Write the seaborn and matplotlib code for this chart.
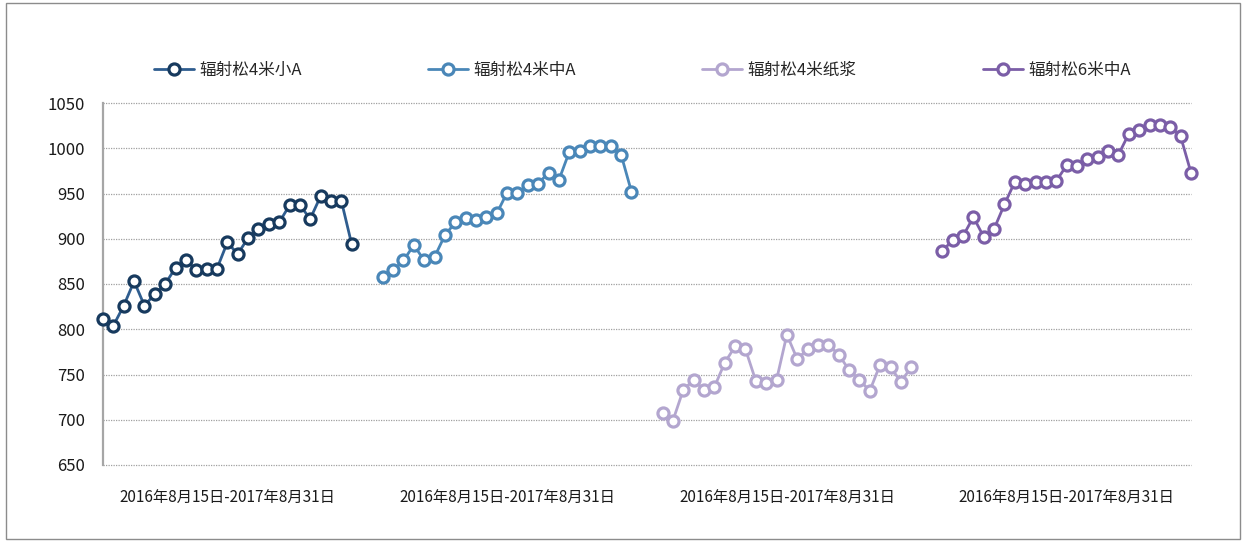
import numpy as np
import pandas as pd
import matplotlib
matplotlib.use("Agg")
import matplotlib.pyplot as plt
import seaborn as sns
from matplotlib.patches import Rectangle

# ---- data ----
series_names = ["辐射松4米小A", "辐射松4米中A", "辐射松4米纸浆", "辐射松6米中A"]
s1 = [811, 804, 826, 853, 826, 839, 850, 868, 876, 866, 867, 867, 896, 883, 901,
      911, 916, 918, 937, 937, 922, 947, 942, 942, 894]
s2 = [858, 865, 876, 893, 876, 880, 904, 918, 923, 921, 924, 928, 951, 951, 959,
      961, 973, 965, 996, 997, 1003, 1003, 1003, 993, 952]
s3 = [707, 699, 733, 744, 733, 736, 763, 781, 778, 743, 741, 744, 794, 767, 778,
      783, 783, 772, 755, 744, 732, 761, 758, 742, 758]
s4 = [886, 899, 903, 924, 902, 911, 938, 963, 961, 963, 963, 964, 981, 980, 988,
      990, 997, 993, 1016, 1020, 1026, 1026, 1024, 1013, 973]
period_label = "2016年8月15日-2017年8月31日"
y_ticks = [650, 700, 750, 800, 850, 900, 950, 1000, 1050]
gap = 2  # empty categories between groups

all_series = [s1, s2, s3, s4]
line_colors = ["#2F5D8F", "#4A87B8", "#B3A6CF", "#7B5EA7"]
edge_colors = ["#173A5E", "#4A87B8", "#B3A6CF", "#7B5EA7"]

rows = []
offset = 0
centers = []
for name, vals in zip(series_names, all_series):
    for i, v in enumerate(vals):
        rows.append({"x": offset + i, "value": v, "series": name})
    centers.append(offset + (len(vals) - 1) / 2)
    offset += len(vals) + gap
df = pd.DataFrame(rows)
x_max = df["x"].max()

sns.set_theme(style="white")
plt.rcParams["font.family"] = ["Noto Sans CJK SC", "DejaVu Sans"]

fig = plt.figure(figsize=(12.42, 5.42), dpi=100)
ax = fig.add_axes([103 / 1242, 1 - 465 / 542, (1191 - 103) / 1242, (465 - 103) / 542])

handles = []
for name, lc, ec in zip(series_names, line_colors, edge_colors):
    sub = df[df["series"] == name]
    sns.lineplot(data=sub, x="x", y="value", ax=ax, color=lc, linewidth=2.0,
                 marker="o", markersize=8, markerfacecolor="white",
                 markeredgecolor=ec, markeredgewidth=2.3, legend=False)
    ln = ax.lines[-1]
    ln.set_clip_on(False)
    ln.set_zorder(3)
    handles.append(ln)

ax.set_xlim(0, x_max)
ax.set_ylim(650, 1050)
ax.set_yticks(y_ticks)
ax.set_xticks(centers)
ax.set_xticklabels([period_label] * len(centers))
ax.tick_params(axis="x", length=0, pad=17, labelsize=11, colors="#1a1a1a")
ax.tick_params(axis="y", length=0, pad=13, labelsize=12, colors="#1a1a1a")
ax.set_xlabel("")
ax.set_ylabel("")
ax.grid(axis="y", color="#A0A0A0", linestyle=(0, (1, 1)), linewidth=0.9)
ax.grid(axis="x", visible=False)
for gl in ax.get_ygridlines():
    gl.set_clip_on(False)
for side in ["top", "right", "bottom"]:
    ax.spines[side].set_visible(False)
ax.spines["left"].set_color("#A6A6A6")
ax.spines["left"].set_linewidth(1.6)
ax.set_axisbelow(True)

leg = fig.legend(handles, series_names, loc="center left",
                 bbox_to_anchor=(154 / 1242, 1 - 70 / 542), ncol=4, frameon=False,
                 fontsize=12, handlelength=2.4, handletextpad=0.3,
                 columnspacing=7.6, borderaxespad=0, borderpad=0)

fig.patches.append(Rectangle((6 / 1242, 1 - 539 / 542), (1240 - 6) / 1242, (539 - 3) / 542,
                             transform=fig.transFigure, fill=False,
                             edgecolor="#8C8C8C", linewidth=1.0))

fig.savefig("out.png", dpi=100)
